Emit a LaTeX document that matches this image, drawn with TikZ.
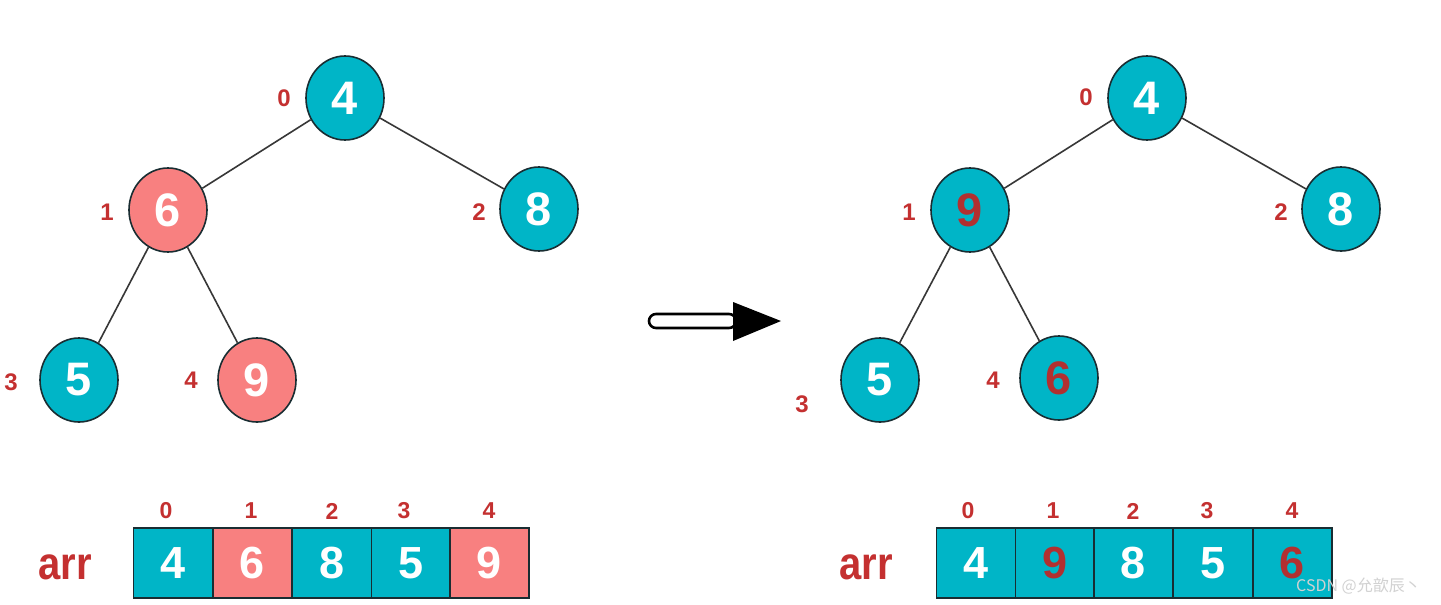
\documentclass[tikz,border=0pt]{standalone}
\usepackage{fontspec}
\setmainfont{Liberation Sans}
\newfontfamily\cjkfont{Noto Sans CJK SC}
\usetikzlibrary{shapes.geometric}
\definecolor{teal}{RGB}{0,181,199}
\definecolor{pinkc}{RGB}{248,128,128}
\definecolor{redt}{RGB}{196,48,48}
\definecolor{darkred}{RGB}{178,48,48}
\definecolor{edgec}{RGB}{25,45,50}
\definecolor{linec}{RGB}{55,55,55}
\tikzset{
  tnode/.style={ellipse, draw=edgec, line width=1.6, minimum width=78, minimum height=84, inner sep=0,
    font=\bfseries\fontsize{47}{47}\selectfont, text=white, fill=teal},
  hot/.style={fill=pinkc},
  swapped/.style={text=darkred},
  idx/.style={font=\bfseries\fontsize{24}{24}\selectfont, text=redt, inner sep=0},
  aidx/.style={font=\bfseries\fontsize{23}{23}\selectfont, text=redt, inner sep=0},
  cell/.style={rectangle, draw=edgec, line width=1.6, minimum width=79, minimum height=70, inner sep=0,
    font=\bfseries\fontsize{45}{45}\selectfont, text=white, fill=teal},
  arrlbl/.style={font=\bfseries\fontsize{40}{40}\selectfont, text=redt, inner sep=0, yscale=1.15},
  edge/.style={draw=linec, line width=1.6},
}
\begin{document}
\begin{tikzpicture}[x=1pt,y=-1pt]
\useasboundingbox (0,0) rectangle (1441,605);
\fill[white] (0,0) rectangle (1441,605);
% left tree
\node[tnode] (L0) at (345,98) {4};
\node[tnode,hot] (L1) at (168,210) {6};
\node[tnode] (L2) at (539,209) {8};
\node[tnode] (L3) at (79,380) {5};
\node[tnode,hot] (L4) at (257,380) {9};
\draw[edge] (L0) -- (L1);
\draw[edge] (L0) -- (L2);
\draw[edge] (L1) -- (L3);
\draw[edge] (L1) -- (L4);
\node[idx] (li0) at (284,98) {0};
\node[idx] (li1) at (107,212) {1};
\node[idx] (li2) at (479,212) {2};
\node[idx] (li3) at (11,382) {3};
\node[idx] (li4) at (191,380) {4};
% right tree
\node[tnode] (R0) at (1147,98) {4};
\node[tnode,swapped] (R1) at (970,210) {9};
\node[tnode] (R2) at (1341,209) {8};
\node[tnode] (R3) at (880,380) {5};
\node[tnode,swapped] (R4) at (1059,378) {6};
\draw[edge] (R0) -- (R1);
\draw[edge] (R0) -- (R2);
\draw[edge] (R1) -- (R3);
\draw[edge] (R1) -- (R4);
\node[idx] (ri0) at (1086,97) {0};
\node[idx] (ri1) at (909,212) {1};
\node[idx] (ri2) at (1281,212) {2};
\node[idx] (ri3) at (802,404) {3};
\node[idx] (ri4) at (993,380) {4};
% arrow
\draw[line width=2.6, fill=white, rounded corners=7] (649,314) rectangle (736,328);
\fill[black] (733,302) -- (781,321) -- (733,341) -- cycle;
% left array
\node[arrlbl] (la) at (65,567) {arr};
\node[cell] (lc0) at (173,563) {4};
\node[cell,hot] (lc1) at (252.5,563) {6};
\node[cell] (lc2) at (332,563) {8};
\node[cell] (lc3) at (411,563) {5};
\node[cell,hot] (lc4) at (489.5,563) {9};
\node[aidx] (la0) at (166,511) {0};
\node[aidx] (la1) at (251,511) {1};
\node[aidx] (la2) at (332,511) {2};
\node[aidx] (la3) at (404,511) {3};
\node[aidx] (la4) at (489,511) {4};
% right array
\node[arrlbl] (ra) at (866,567) {arr};
\node[cell] (rc0) at (976,563) {4};
\node[cell,swapped] (rc1) at (1055,563) {9};
\node[cell] (rc2) at (1133.5,563) {8};
\node[cell] (rc3) at (1213,563) {5};
\node[cell,swapped] (rc4) at (1292.5,563) {6};
\node[aidx] (ra0) at (968,511) {0};
\node[aidx] (ra1) at (1053,511) {1};
\node[aidx] (ra2) at (1133,511) {2};
\node[aidx] (ra3) at (1207,511) {3};
\node[aidx] (ra4) at (1292,511) {4};
% watermark
\node[font=\cjkfont\fontsize{16}{16}\selectfont, text=white!65!gray, inner sep=0, anchor=west] (wm) at (1296,586) {CSDN @允歆辰丶};
\end{tikzpicture}
\end{document}
